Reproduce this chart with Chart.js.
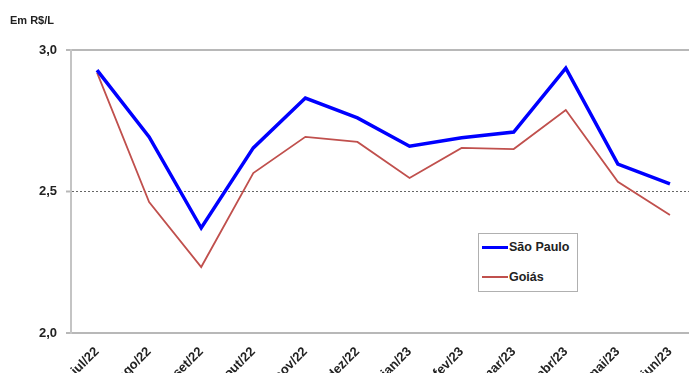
<!DOCTYPE html>
<html><head><meta charset="utf-8">
<script src="https://cdn.jsdelivr.net/npm/chart.js@4.4.0/dist/chart.umd.min.js"></script>
<style>
html,body{margin:0;padding:0;background:#fff;overflow:hidden;}
#wrap{position:relative;width:689px;height:373px;overflow:hidden;}
#cv{position:absolute;left:0;top:0;}
#title{position:absolute;left:10px;top:14px;font:bold 11px "Liberation Sans",Arial,sans-serif;color:#222;}
#legend{position:absolute;left:478px;top:233px;width:98px;height:57px;border:1px solid #b0b0b0;background:#fff;font:bold 12.5px "Liberation Sans",Arial,sans-serif;color:#222;}
.li{position:absolute;left:3px;height:14px;line-height:14px;}
.sw{position:absolute;left:0;width:26px;}
.tx{position:absolute;left:27px;top:0;white-space:nowrap;}
</style></head>
<body>
<div id="wrap">
<canvas id="cv" width="700" height="420" style="width:700px;height:420px"></canvas>
<div id="title">Em R$/L</div>
<div id="legend">
  <div class="li" style="top:6px;"><div class="sw" style="top:6px;height:3px;background:#0000ff"></div><div class="tx">São Paulo</div></div>
  <div class="li" style="top:36px;"><div class="sw" style="top:6px;height:2px;background:#c0504d"></div><div class="tx">Goiás</div></div>
</div>
</div>
<script>
const categories = ["jul/22","ago/22","set/22","out/22","nov/22","dez/22","jan/23","fev/23","mar/23","abr/23","mai/23","jun/23"];
const saoPaulo = [2.929, 2.693, 2.371, 2.654, 2.830, 2.760, 2.660, 2.690, 2.710, 2.936, 2.597, 2.527];
const goias    = [2.920, 2.463, 2.233, 2.565, 2.693, 2.675, 2.548, 2.654, 2.650, 2.788, 2.534, 2.417];
const yTicks = [2.0, 2.5, 3.0];

new Chart(document.getElementById('cv'), {
  type: 'line',
  data: {
    labels: categories,
    datasets: [
      {label: 'São Paulo', data: saoPaulo, borderColor: '#0000ff', borderWidth: 3.5, pointRadius: 0, tension: 0, order: 1},
      {label: 'Goiás', data: goias, borderColor: '#c0504d', borderWidth: 1.8, pointRadius: 0, tension: 0, order: 2}
    ]
  },
  options: {
    responsive: false,
    animation: false,
    layout: {padding: {top: 50, right: 4, left: 0, bottom: 0}},
    plugins: {legend: {display: false}, tooltip: {enabled: false}},
    scales: {
      x: {
        offset: true,
        grid: {display: false},
        border: {display: false},
        ticks: {
          autoSkip: false, maxRotation: 45, minRotation: 45, padding: 3,
          color: '#222', font: {family: '"Liberation Sans", Arial, sans-serif', size: 13, weight: 'bold'}
        },
        afterFit: s => { s.height = 87; }
      },
      y: {
        min: 2, max: 3,
        afterBuildTicks: s => { s.ticks = yTicks.map(v => ({value: v})); },
        ticks: {
          padding: 9, color: '#222',
          font: {family: '"Liberation Sans", Arial, sans-serif', size: 13, weight: 'bold'},
          callback: v => v.toFixed(1).replace('.', ',')
        },
        grid: {
          color: c => (c.tick && c.tick.value === 2.5) ? '#666' : '#b8b8b8',
          lineWidth: c => (c.tick && c.tick.value === 2.5) ? 1 : 2,
          tickLength: 5,
          tickColor: '#b8b8b8', tickWidth: 2
        },
        border: {
          display: true, color: '#c4c4c4', width: 2,
          dash: c => (c.tick && c.tick.value === 2.5) ? [2, 2] : []
        },
        afterFit: s => { s.width = 71; }
      }
    }
  }
});
</script>
</body></html>
